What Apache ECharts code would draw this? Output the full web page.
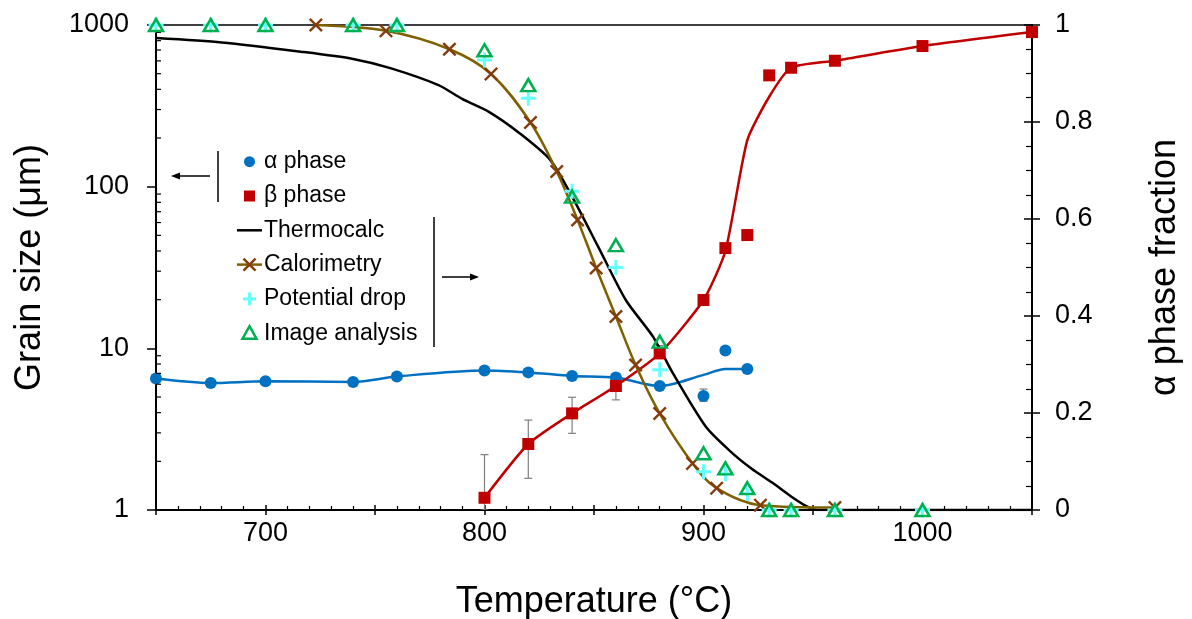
<!DOCTYPE html>
<html><head><meta charset="utf-8">
<script src="https://cdn.jsdelivr.net/npm/echarts@6/dist/echarts.min.js"></script>
<style>html,body{margin:0;padding:0;background:#fff}#c{width:1192px;height:619px}</style>
</head><body><div id="c"></div>
<script>
const FONT = '"Liberation Sans", Arial, Helvetica, sans-serif';

// ---- Grain size (left, log axis) ----
const alphaTemp = [650, 675, 700, 740, 760, 800, 820, 840, 860, 880, 900, 910, 920];
const alphaSize = [6.5, 6.1, 6.25, 6.2, 6.7, 7.3, 7.1, 6.75, 6.6, 5.85, 5.07, 9.7, 7.45];
const alphaFitTemp = [650, 675, 700, 740, 760, 800, 820, 840, 860, 880, 900, 910, 920];
const alphaFit = [6.5, 6.1, 6.25, 6.2, 6.7, 7.3, 7.1, 6.75, 6.6, 5.85, 6.85, 7.45, 7.45];

const betaTemp = [800, 820, 840, 860, 880, 900, 910, 920, 930, 940, 960, 1000, 1050];
const betaSize = [1.19, 2.56, 3.96, 5.85, 9.3, 19.9, 41.7, 50.2, 488, 544, 601, 741, 904];
const betaFitTemp = [800, 820, 840, 860, 880, 900, 910, 920, 930, 940, 960, 1000, 1050];
const betaFit = [1.19, 2.56, 3.96, 5.85, 9.3, 19.9, 40, 194, 360, 544, 601, 741, 904];

// error bars [temperature, low, high]
const errTemp = [740, 800, 820, 840, 860, 880, 900];
const errLow  = [5.9, 1.0, 1.57, 2.98, 4.8, 9.0, 4.7];
const errHigh = [6.5, 2.2, 3.6, 4.98, 7.0, 10.4, 5.6];

// ---- alpha phase fraction (right axis) ----
const thermoTemp = [650, 680, 716, 740, 757, 779, 790, 802, 816, 830, 840, 852, 864.5, 877, 886, 901, 912, 922, 931.5, 940, 947, 952, 1050];
const thermoFrac = [0.973, 0.964, 0.945, 0.93, 0.911, 0.876, 0.847, 0.821, 0.777, 0.722, 0.646, 0.542, 0.433, 0.357, 0.282, 0.172, 0.122, 0.085, 0.056, 0.028, 0.008, 0.0, 0.0];

const caloTemp = [723, 755, 784, 803, 821, 833, 842.5, 851, 860, 869, 880, 895, 906, 926, 960];
const caloFrac = [1.0, 0.988, 0.95, 0.899, 0.799, 0.698, 0.598, 0.499, 0.399, 0.299, 0.199, 0.096, 0.045, 0.01, 0.005];

const potTemp = [650, 675, 700, 740, 760, 800, 820, 840, 860, 880, 900, 910, 920, 930, 940, 960, 1000];
const potFrac = [1, 1, 1, 1, 1, 0.928, 0.849, 0.657, 0.50, 0.289, 0.079, 0.075, 0.034, 0, 0, 0, 0];

const imgTemp = [650, 675, 700, 740, 760, 800, 820, 840, 860, 880, 900, 910, 920, 930, 940, 960, 1000];
const imgFrac = [1, 1, 1, 1, 1, 0.948, 0.876, 0.646, 0.546, 0.347, 0.117, 0.086, 0.045, 0, 0, 0, 0];

// legend labels
const legendNames = ['α phase', 'β phase', 'Thermocalc', 'Calorimetry', 'Potential drop', 'Image analysis'];

// axis settings
const xMin = 650, xMax = 1050;
const logMinorTicks = [2,3,4,5,6,7,8,9,20,30,40,50,60,70,80,90,200,300,400,500,600,700,800,900];

const zip = (a, b) => a.map((v, i) => [v, b[i]]);

const C_ALPHA = '#0070C0', C_BETA = '#C00000', C_CALO_LINE = '#7F6000', C_CALO_X = '#843C0C',
      C_POT = '#66FFFF', C_IMG = '#00B050';

const X_PATH = 'path://M1.2,0 L5,3.8 L8.8,0 L10,1.2 L6.2,5 L10,8.8 L8.8,10 L5,6.2 L1.2,10 L0,8.8 L3.8,5 L0,1.2 Z';
const PLUS_PATH = 'path://M4,0 L6,0 L6,4 L10,4 L10,6 L6,6 L6,10 L4,10 L4,6 L0,6 L0,4 L4,4 Z';

const chart = echarts.init(document.getElementById('c'), null, {renderer: 'canvas'});

const axisLabelStyle = {color: '#000', fontSize: 27, fontFamily: FONT};
const nameStyle = {color: '#000', fontSize: 36, fontFamily: FONT};

// ---- hand-built legend (graphic) ----
const LX = 249.5, LTX = 264, LY0 = 161.7, LDY = 34.3;
const legendGraphics = [];
legendNames.forEach((name, i) => {
  const cy = LY0 + i * LDY;
  legendGraphics.push({type: 'text', style: {text: name, x: LTX, y: cy, font: '23px ' + FONT, fill: '#000', verticalAlign: 'middle', align: 'left'}});
  if (i === 0) legendGraphics.push({type: 'circle', shape: {cx: LX, cy: cy, r: 5.5}, style: {fill: C_ALPHA}});
  if (i === 1) legendGraphics.push({type: 'rect', shape: {x: LX - 5.5, y: cy - 5.5, width: 11, height: 11}, style: {fill: C_BETA}});
  if (i === 2) legendGraphics.push({type: 'line', shape: {x1: LX - 12.5, y1: cy, x2: LX + 12.5, y2: cy}, style: {stroke: '#000', lineWidth: 2.5}});
  if (i === 3) {
    legendGraphics.push({type: 'line', shape: {x1: LX - 12.5, y1: cy, x2: LX + 12.5, y2: cy}, style: {stroke: C_CALO_LINE, lineWidth: 2.5}});
    legendGraphics.push({type: 'line', shape: {x1: LX - 6, y1: cy - 6, x2: LX + 6, y2: cy + 6}, style: {stroke: C_CALO_X, lineWidth: 2.5}});
    legendGraphics.push({type: 'line', shape: {x1: LX - 6, y1: cy + 6, x2: LX + 6, y2: cy - 6}, style: {stroke: C_CALO_X, lineWidth: 2.5}});
  }
  if (i === 4) {
    legendGraphics.push({type: 'line', shape: {x1: LX - 6.5, y1: cy, x2: LX + 6.5, y2: cy}, style: {stroke: C_POT, lineWidth: 3}});
    legendGraphics.push({type: 'line', shape: {x1: LX, y1: cy - 6.5, x2: LX, y2: cy + 6.5}, style: {stroke: C_POT, lineWidth: 3}});
  }
  if (i === 5) legendGraphics.push({type: 'polygon', shape: {points: [[LX, cy - 7], [LX + 7, cy + 5.5], [LX - 7, cy + 5.5]]}, style: {fill: 'none', stroke: C_IMG, lineWidth: 2.5}});
});

chart.setOption({
  animation: false,
  backgroundColor: '#fff',
  textStyle: {fontFamily: FONT},
  grid: {left: 156, right: 160, top: 25, bottom: 109, containLabel: false, outerBoundsMode: 'none',
         show: true, borderColor: '#000', borderWidth: 1.5, backgroundColor: 'transparent'},
  xAxis: [{
    type: 'value', min: xMin, max: xMax, interval: 50,
    name: 'Temperature (°C)', nameLocation: 'middle', nameGap: 74, nameTextStyle: nameStyle,
    axisLine: {show: true, lineStyle: {color: '#000', width: 2}},
    axisTick: {show: true, inside: true, length: 5, lineStyle: {color: '#000', width: 1.5}},
    minorTick: {show: true, splitNumber: 5, length: 4, lineStyle: {color: '#000', width: 1.2}},
    axisLabel: {...axisLabelStyle, margin: 10, formatter: v => (v % 100 === 0 ? String(v) : '')},
    splitLine: {show: false}
  }, {
    type: 'value', min: xMin, max: xMax, interval: 50, position: 'bottom',
    axisLine: {show: false},
    axisTick: {show: true, inside: false, length: 5, lineStyle: {color: '#000', width: 1.5}},
    axisLabel: {show: false}, splitLine: {show: false}
  }],
  yAxis: [{
    type: 'log', logBase: 10, min: 1, max: 1000, position: 'left',
    name: 'Grain size (μm)', nameLocation: 'middle', nameGap: 108, nameTextStyle: nameStyle,
    axisLine: {show: true, lineStyle: {color: '#000', width: 2}},
    axisTick: {show: true, inside: false, length: 9, lineStyle: {color: '#000', width: 1.5}},
    axisLabel: {...axisLabelStyle, margin: 27, formatter: v => String(Math.round(v))},
    splitLine: {show: false}
  }, {
    type: 'value', min: 0, max: 1, interval: 0.2, position: 'right',
    name: 'α phase fraction', nameLocation: 'middle', nameGap: 115, nameTextStyle: nameStyle,
    axisLine: {show: true, lineStyle: {color: '#000', width: 2}},
    axisTick: {show: true, inside: true, length: 8, lineStyle: {color: '#000', width: 1.5}},
    minorTick: {show: true, splitNumber: 4, length: 6, lineStyle: {color: '#000', width: 1.2}},
    axisLabel: {...axisLabelStyle, margin: 23},
    splitLine: {show: false}
  }, {
    type: 'value', min: 0, max: 1, interval: 0.2, position: 'right',
    axisLine: {show: false},
    axisTick: {show: true, inside: false, length: 8, lineStyle: {color: '#000', width: 1.5}},
    axisLabel: {show: false}, splitLine: {show: false}
  }],
  graphic: [
    {type: 'line', shape: {x1: 218, y1: 151, x2: 218, y2: 202}, style: {stroke: '#000', lineWidth: 1.5}},
    {type: 'line', shape: {x1: 178, y1: 176, x2: 210, y2: 176}, style: {stroke: '#000', lineWidth: 1.5}},
    {type: 'polygon', shape: {points: [[171, 176], [180, 172.5], [180, 179.5]]}, style: {fill: '#000'}},
    {type: 'line', shape: {x1: 434, y1: 217, x2: 434, y2: 347}, style: {stroke: '#000', lineWidth: 1.5}},
    {type: 'line', shape: {x1: 442, y1: 277, x2: 472, y2: 277}, style: {stroke: '#000', lineWidth: 1.5}},
    {type: 'polygon', shape: {points: [[479, 277], [470, 273.5], [470, 280.5]]}, style: {fill: '#000'}},
    ...legendGraphics
  ],
  series: [
    // log-axis minor ticks
    {
      type: 'custom', xAxisIndex: 0, yAxisIndex: 0, silent: true, clip: false, z: 5,
      data: logMinorTicks.map(v => [xMin, v]),
      renderItem: (p, api) => {
        const c = api.coord([api.value(0), api.value(1)]);
        return {type: 'line', shape: {x1: c[0], y1: c[1], x2: c[0] + 5, y2: c[1]}, style: {stroke: '#000', lineWidth: 1.2}};
      }
    },
    // error bars
    {
      type: 'custom', xAxisIndex: 0, yAxisIndex: 0, silent: true, clip: true, z: 1,
      data: errTemp.map((t, i) => [t, errLow[i], errHigh[i]]),
      renderItem: (p, api) => {
        const lo = api.coord([api.value(0), api.value(1)]);
        const hi = api.coord([api.value(0), api.value(2)]);
        const w = 4, st = {stroke: '#7f7f7f', lineWidth: 1.2};
        return {type: 'group', children: [
          {type: 'line', shape: {x1: lo[0], y1: lo[1], x2: hi[0], y2: hi[1]}, style: st},
          {type: 'line', shape: {x1: hi[0] - w, y1: hi[1], x2: hi[0] + w, y2: hi[1]}, style: st},
          {type: 'line', shape: {x1: lo[0] - w, y1: lo[1], x2: lo[0] + w, y2: lo[1]}, style: st}
        ]};
      }
    },
    {
      name: 'alpha fit', type: 'line', xAxisIndex: 0, yAxisIndex: 0, data: zip(alphaFitTemp, alphaFit),
      symbol: 'none', smooth: 0.3, lineStyle: {color: C_ALPHA, width: 2.5}, z: 2
    },
    {
      name: 'beta fit', type: 'line', xAxisIndex: 0, yAxisIndex: 0, data: zip(betaFitTemp, betaFit),
      symbol: 'none', smooth: 0.2, lineStyle: {color: C_BETA, width: 2.5}, z: 2
    },
    {
      name: legendNames[0], type: 'scatter', xAxisIndex: 0, yAxisIndex: 0, data: zip(alphaTemp, alphaSize),
      symbol: 'circle', symbolSize: 12, itemStyle: {color: C_ALPHA, opacity: 1}, clip: false, z: 3
    },
    {
      name: legendNames[1], type: 'scatter', xAxisIndex: 0, yAxisIndex: 0, data: zip(betaTemp, betaSize),
      symbol: 'rect', symbolSize: 12, itemStyle: {color: C_BETA, opacity: 1}, clip: false, z: 3
    },
    {
      name: legendNames[2], type: 'line', xAxisIndex: 0, yAxisIndex: 1, data: zip(thermoTemp, thermoFrac),
      symbol: 'none', smooth: 0.25, lineStyle: {color: '#000', width: 2.5}, itemStyle: {color: '#000'}, z: 2
    },
    {
      name: legendNames[3], type: 'line', xAxisIndex: 0, yAxisIndex: 1, data: zip(caloTemp, caloFrac),
      symbol: X_PATH, symbolSize: 14, showAllSymbol: true, smooth: 0.35, clip: false,
      lineStyle: {color: C_CALO_LINE, width: 2.5}, itemStyle: {color: C_CALO_X, opacity: 1}, z: 3
    },
    {
      name: legendNames[4], type: 'scatter', xAxisIndex: 0, yAxisIndex: 1, data: zip(potTemp, potFrac),
      symbol: PLUS_PATH, symbolSize: 15, itemStyle: {color: C_POT, opacity: 1}, clip: false, z: 4
    },
    {
      name: legendNames[5], type: 'scatter', xAxisIndex: 0, yAxisIndex: 1, data: zip(imgTemp, imgFrac),
      symbol: 'triangle', symbolSize: [14, 12], clip: false, z: 5,
      itemStyle: {color: 'rgba(255,255,255,0)', borderColor: C_IMG, borderWidth: 2.5, opacity: 1}
    }
  ]
});
</script></body></html>
